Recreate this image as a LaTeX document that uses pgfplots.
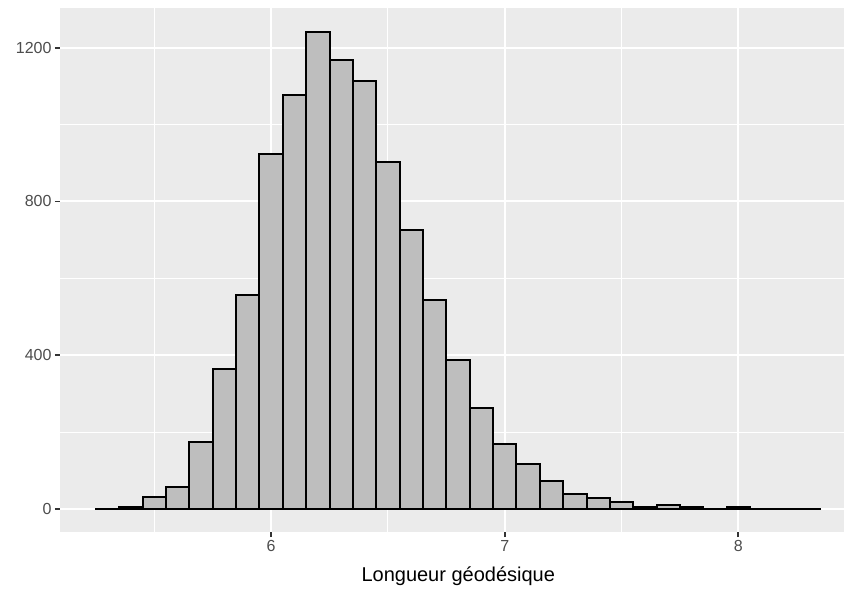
\documentclass[border=0pt]{standalone}
\usepackage{fontspec}
\setmainfont{Liberation Sans}
\usepackage{pgfplots}
\pgfplotsset{compat=1.18}

\definecolor{panel}{HTML}{EBEBEB}
\definecolor{barfill}{HTML}{BEBEBE}
\definecolor{gray30}{HTML}{4D4D4D}
\definecolor{gray20}{HTML}{333333}

\begin{document}
\begin{tikzpicture}
% white page, 845 x 588
\fill[white] (-60pt,-56pt) rectangle (785pt,532pt);
\begin{axis}[
  name=ax,
  at={(0,0)}, anchor=south west,
  scale only axis,
  width=784pt, height=524pt,
  xmin=5.0964, xmax=8.4518,
  ymin=-59.8, ymax=1303.3,
  axis background/.style={fill=panel},
  axis line style={draw=none},
  xtick={6,7,8}, ytick={0,400,800,1200},
  minor xtick={5.5,6.5,7.5},
  minor ytick={200,600,1000},
  xtick pos=bottom, ytick pos=left,
  tick align=outside,
  major tick length=5pt, minor tick length=0pt,
  major tick style={gray20, line width=1.9pt},
  grid=both,
  major grid style={white, line width=2pt},
  minor grid style={white, line width=1pt},
  /pgf/number format/assume math mode=true,
  /pgf/number format/1000 sep={},
  tick label style={font=\fontsize{16}{16}\selectfont, text=gray30},
  xlabel={Longueur géodésique},
  xlabel style={font=\fontsize{20}{20}\selectfont, at={(axis description cs:0.508,-0.0954)}, anchor=base},
]
\addplot[ybar interval, fill=barfill, draw=black, line width=2pt] coordinates {
  (5.25,1) (5.35,5) (5.45,30) (5.55,58) (5.65,174) (5.75,364) (5.85,557)
  (5.95,923) (6.05,1078) (6.15,1241) (6.25,1169) (6.35,1113) (6.45,902)
  (6.55,726) (6.65,544) (6.75,388) (6.85,262) (6.95,168) (7.05,116)
  (7.15,73) (7.25,40) (7.35,29) (7.45,17) (7.55,5) (7.65,10) (7.75,6)
  (7.85,1) (7.95,4) (8.05,1) (8.15,1) (8.25,1) (8.35,1)
};
\end{axis}
\end{tikzpicture}
\end{document}
